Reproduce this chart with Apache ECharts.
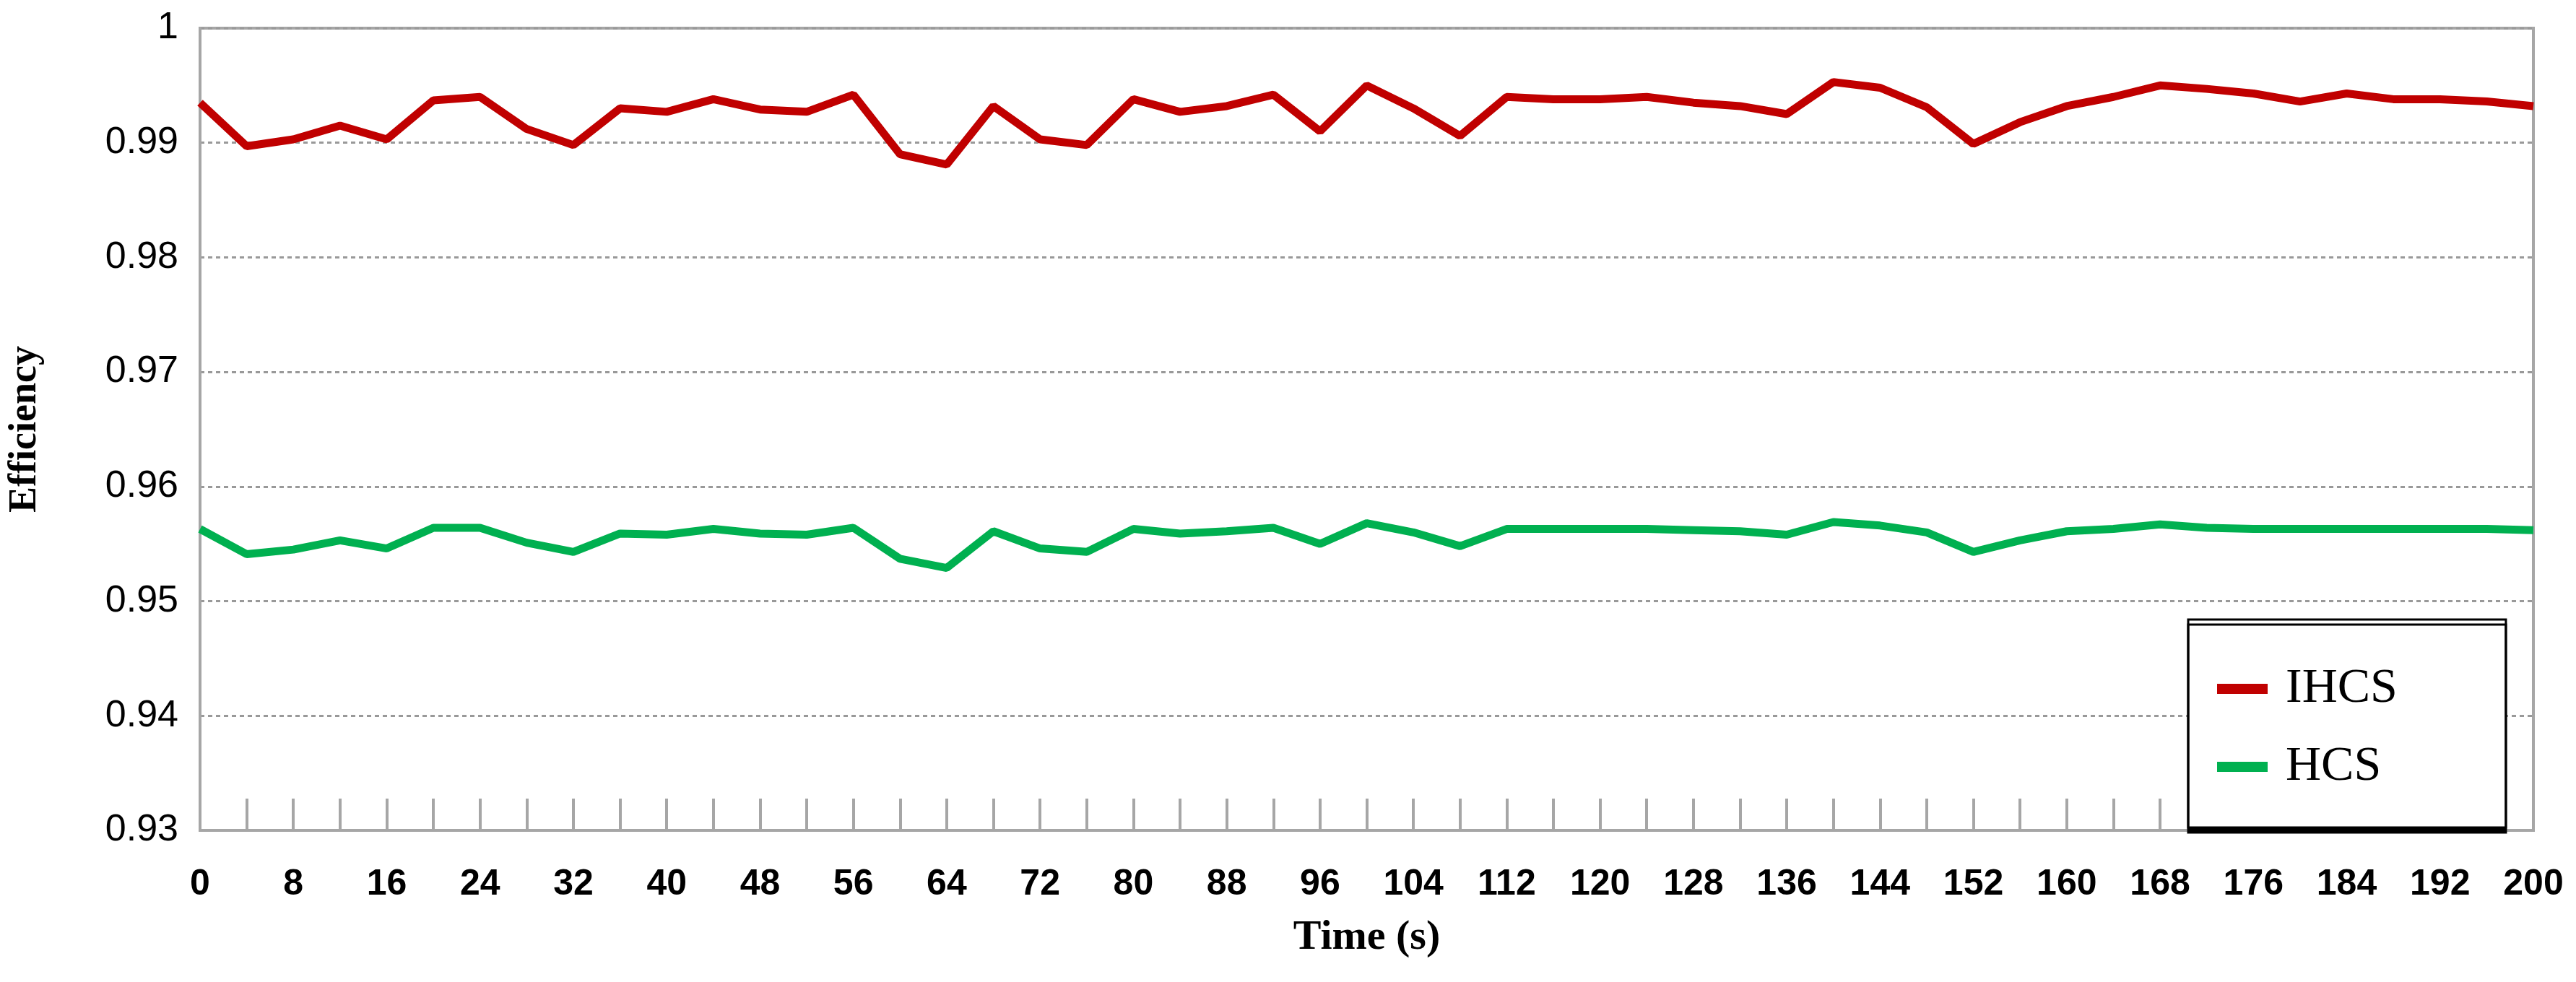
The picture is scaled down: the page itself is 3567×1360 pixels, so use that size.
<!DOCTYPE html>
<html><head><meta charset="utf-8">
<script src="https://cdn.jsdelivr.net/npm/echarts@6/dist/echarts.min.js"></script>
<style>html,body{margin:0;padding:0;background:#fff}#c{width:3567px;height:1360px}</style>
</head><body><div id="c"></div>
<script>
const times = [];
for (let t = 0; t <= 200; t += 4) times.push(String(t));
const ihcs = [0.9935,0.9897,0.9903,0.9915,0.9903,0.9937,0.9940,0.9912,0.9898,0.9930,0.9927,0.9938,0.9929,0.9927,0.9942,0.9890,0.9881,0.9932,0.9903,0.9898,0.9938,0.9927,0.9932,0.9942,0.9910,0.9950,0.9930,0.9906,0.9940,0.9938,0.9938,0.9940,0.9935,0.9932,0.9925,0.9953,0.9948,0.9931,0.9899,0.9918,0.9932,0.9940,0.9950,0.9947,0.9943,0.9936,0.9943,0.9938,0.9938,0.9936,0.9932];
const hcs = [0.9563,0.9541,0.9545,0.9553,0.9546,0.9564,0.9564,0.9551,0.9543,0.9559,0.9558,0.9563,0.9559,0.9558,0.9564,0.9537,0.9529,0.9561,0.9546,0.9543,0.9563,0.9559,0.9561,0.9564,0.9550,0.9568,0.9560,0.9548,0.9563,0.9563,0.9563,0.9563,0.9562,0.9561,0.9558,0.9569,0.9566,0.9560,0.9543,0.9553,0.9561,0.9563,0.9567,0.9564,0.9563,0.9563,0.9563,0.9563,0.9563,0.9563,0.9562];
const yTicks = { min: 0.93, max: 1, interval: 0.01 };
const font = "'Liberation Sans Narrow','Liberation Sans',Arial,sans-serif";
const chart = echarts.init(document.getElementById('c'));
chart.setOption({
  animation: false,
  grid: { left: 273, right: 59, top: 39, bottom: 210, show: true, borderColor: '#a6a6a6', borderWidth: 4 },
  legend: {
    orient: 'vertical', left: 3030, top: 858,
    padding: [62, 150, 50, 40], itemGap: 40,
    itemWidth: 70, itemHeight: 14,
    borderColor: '#000', borderWidth: 3, backgroundColor: '#fff',
    shadowColor: '#000', shadowOffsetY: 7, shadowBlur: 0,
    textStyle: { fontFamily: "'Liberation Serif','Times New Roman',serif", fontSize: 68, color: '#000', padding: [0,0,0,20] },
    data: [{ name: 'IHCS', icon: 'rect' }, { name: 'HCS', icon: 'rect' }]
  },
  xAxis: {
    type: 'category', data: times, boundaryGap: false,
    name: 'Time (s)', nameLocation: 'middle', nameGap: 120,
    nameTextStyle: { fontFamily: "'Liberation Serif',serif", fontWeight: 'bold', fontSize: 58, color: '#000' },
    axisLine: { lineStyle: { color: '#a6a6a6', width: 4 } },
    axisTick: { inside: true, length: 44, interval: 0, lineStyle: { color: '#a6a6a6', width: 4 } },
    axisLabel: { interval: 1, margin: 50, fontSize: 50, fontWeight: 'bold', color: '#000', fontFamily: font },
    splitLine: { show: false }
  },
  yAxis: {
    type: 'value', min: yTicks.min, max: yTicks.max, interval: yTicks.interval,
    name: 'Efficiency', nameLocation: 'middle', nameGap: 215,
    nameTextStyle: { fontFamily: "'Liberation Serif',serif", fontWeight: 'bold', fontSize: 54, color: '#000' },
    axisLine: { show: true, lineStyle: { color: '#a6a6a6', width: 4 } },
    axisTick: { show: false },
    axisLabel: { margin: 30, fontSize: 52, color: '#000', fontFamily: font, formatter: v => String(+v.toFixed(2)) },
    splitLine: { lineStyle: { color: '#999', type: [6, 5], width: 3 } }
  },
  series: [
    { name: 'IHCS', type: 'line', data: ihcs, symbol: 'none', color: '#c00000', lineStyle: { width: 11, color: '#c00000' } },
    { name: 'HCS', type: 'line', data: hcs, symbol: 'none', color: '#00b050', lineStyle: { width: 11, color: '#00b050' } }
  ]
});
</script></body></html>
